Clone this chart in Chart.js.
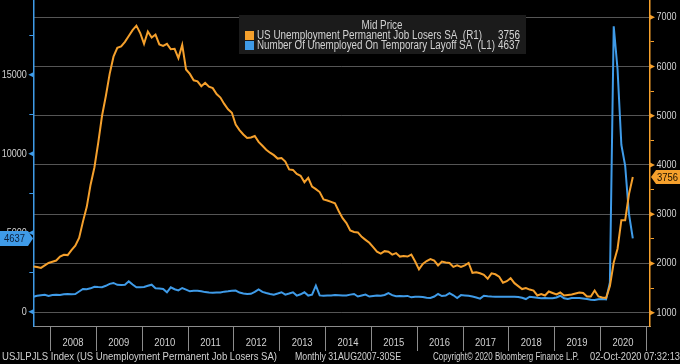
<!DOCTYPE html>
<html><head><meta charset="utf-8">
<script src="https://cdn.jsdelivr.net/npm/chart.js@4"></script>
<style>html,body{margin:0;padding:0;background:#000;overflow:hidden}canvas{display:block}</style>
</head><body>
<canvas id="c" width="680" height="364"></canvas>
<script>
const FONT = '"Liberation Sans", Arial, sans-serif';
const NARROW = 0.82; // horizontal squeeze, like a narrow face

// Monthly series, month-end Aug 2007 .. Sep 2020 (thousands)
const firstMonth = '2007-08';
const years = ['2008','2009','2010','2011','2012','2013','2014','2015','2016','2017','2018','2019','2020'];

const permanentLosers = [
  1940,1930,1910,1960,2010,
  2035,2060,2140,2175,2170,2270,2360,2520,2850,3150,3600,3950,
  4450,5000,5400,5850,6200,6380,6410,6500,6620,6740,6830,6680,
  6460,6710,6590,6650,6450,6420,6460,6350,6360,6170,6440,5940,
  5850,5720,5700,5600,5670,5590,5560,5440,5370,5240,5130,5060,
  4820,4710,4620,4550,4560,4590,4470,4390,4310,4250,4200,4130,
  4140,4070,3910,3900,3820,3780,3650,3740,3560,3510,3450,3300,
  3280,3250,3220,3060,2920,2820,2670,2640,2630,2540,2480,2420,
  2330,2240,2200,2250,2240,2180,2210,2140,2150,2140,2180,2040,
  1880,1990,2050,2090,2060,1960,2040,2020,2010,1930,1960,1930,
  1960,2010,1810,1820,1800,1770,1690,1800,1780,1730,1610,1640,
  1700,1600,1540,1480,1500,1470,1450,1350,1380,1350,1430,1400,
  1370,1410,1350,1360,1370,1390,1410,1400,1330,1330,1450,1330,
  1310,1300,1540,2020,2300,2880,2880,3410,3756
];

const temporaryLayoff = [
  950,1010,1040,1070,1000,
  1060,1070,1060,1100,1120,1110,1120,1280,1440,1420,1480,1580,
  1560,1550,1640,1760,1820,1700,1690,1700,1920,1720,1550,1540,
  1560,1640,1710,1490,1470,1440,1230,1540,1420,1350,1500,1400,
  1290,1320,1330,1290,1240,1210,1200,1210,1210,1270,1290,1320,
  1340,1210,1150,1120,1130,1250,1410,1250,1180,1120,1080,1150,
  1230,1080,1150,1230,1020,1100,1230,1020,1080,1650,1030,1010,
  1020,1030,1060,1040,1020,1020,1080,1120,960,1020,1080,960,
  990,1020,1010,1060,1180,1050,980,990,980,1000,910,940,
  950,930,890,870,960,1120,990,1020,1180,1040,870,1050,
  1030,1010,960,900,830,1010,980,960,950,950,940,950,
  950,940,930,880,800,950,920,880,850,860,850,850,
  900,1010,850,800,860,870,860,840,800,760,740,790,
  801,780,1848,18063,15343,10565,9232,6166,4637
];

const leftTickValues  = [0,2500,5000,7500,10000,12500,15000,17500];
const leftMajor       = [0,5000,10000,15000];
const rightTickValues = [1000,1500,2000,2500,3000,3500,4000,4500,5000,5500,6000,6500,7000];
const rightMajor      = [1000,2000,3000,4000,5000,6000,7000];

const legendTitle = 'Mid Price';
const seriesNames = ['US Unemployment Permanent Job Losers SA  (R1)', 'Number Of Unemployed On Temporary Layoff SA  (L1)'];
const footerParts = ['USJLPJLS Index (US Unemployment Permanent Job Losers SA)', 'Monthly 31AUG2007-30SE', 'Copyright\u00A9 2020 Bloomberg Finance L.P.', '02-Oct-2020 07:32:13'];

const ORANGE = '#f5a02c';
const BLUE = '#3f9be8';
const TXT = '#d2d2d2';

const toPoints = arr => arr.map((v, i) => ({x: i, y: v}));

// draw text squeezed horizontally; optional target width fits the string exactly
function txt(ctx, s, x, y, align, size, color, fitWidth) {
  ctx.save();
  ctx.font = size + 'px ' + FONT;
  ctx.fillStyle = color; ctx.textBaseline = 'middle'; ctx.textAlign = align;
  let sx = NARROW;
  if (fitWidth) sx = fitWidth / ctx.measureText(s).width;
  ctx.translate(x, y); ctx.scale(sx, 1); ctx.fillText(s, 0, 0);
  ctx.restore();
}

const overlay = {
  id: 'overlay',
  beforeDraw(chart) {
    const c = chart.ctx; c.save(); c.fillStyle = '#000'; c.fillRect(0, 0, chart.width, chart.height); c.restore();
  },
  afterDraw(chart) {
    const ctx = chart.ctx, xs = chart.scales.x, yl = chart.scales.yL, yr = chart.scales.yR, a = chart.chartArea;
    ctx.save();
    // year separators and labels
    ctx.strokeStyle = '#8c8c8c'; ctx.lineWidth = 1;
    for (let k = 0; k <= years.length; k++) {
      const px = Math.round(xs.getPixelForValue(k * 12 + 4.4)) + 0.5;
      ctx.beginPath(); ctx.moveTo(px, a.bottom); ctx.lineTo(px, a.bottom + 25); ctx.stroke();
    }
    xs.ticks.forEach((t, i) => txt(ctx, years[i], xs.getPixelForValue(t.value), a.bottom + 17, 'center', 11.5, TXT));
    // axis labels and major arrow heads
    leftMajor.forEach(v => {
      const py = yl.getPixelForValue(v);
      ctx.fillStyle = BLUE;
      ctx.beginPath(); ctx.moveTo(a.left, py - 2.5); ctx.lineTo(a.left, py + 2.5); ctx.lineTo(a.left - 5, py); ctx.closePath(); ctx.fill();
      txt(ctx, String(v), a.left - 6.5, py, 'right', 11, TXT);
    });
    rightMajor.forEach(v => {
      const py = yr.getPixelForValue(v);
      ctx.fillStyle = ORANGE;
      ctx.beginPath(); ctx.moveTo(a.right, py - 2.5); ctx.lineTo(a.right, py + 2.5); ctx.lineTo(a.right + 5, py); ctx.closePath(); ctx.fill();
      txt(ctx, String(v), a.right + 6.5, py, 'left', 11, TXT);
    });
    // legend box
    ctx.fillStyle = '#1b1b1b';
    ctx.fillRect(239, 15, 287, 39);
    txt(ctx, legendTitle, 382, 25.5, 'center', 12, TXT, 41);
    const lastP = permanentLosers[permanentLosers.length - 1];
    const lastT = temporaryLayoff[temporaryLayoff.length - 1];
    const rows = [[ORANGE, seriesNames[0], lastP, 35.5, 225], [BLUE, seriesNames[1], lastT, 45.5, 238]];
    rows.forEach(([col, name, val, y, w]) => {
      ctx.fillStyle = col; ctx.fillRect(245, y - 4.5, 9, 9);
      txt(ctx, name, 257, y, 'left', 12, TXT, w);
      txt(ctx, String(val), 520, y, 'right', 12, TXT, 22);
    });
    // last value boxes
    let cy = yl.getPixelForValue(lastT);
    ctx.fillStyle = BLUE;
    ctx.beginPath(); ctx.moveTo(0, cy - 7.5); ctx.lineTo(28, cy - 7.5); ctx.lineTo(33, cy); ctx.lineTo(28, cy + 7.5); ctx.lineTo(0, cy + 7.5); ctx.closePath(); ctx.fill();
    txt(ctx, String(lastT), 14.5, cy + 0.5, 'center', 11.5, '#0d1f3a');
    cy = yr.getPixelForValue(lastP);
    ctx.fillStyle = ORANGE;
    ctx.beginPath(); ctx.moveTo(651, cy); ctx.lineTo(656, cy - 7); ctx.lineTo(680, cy - 7); ctx.lineTo(680, cy + 7); ctx.lineTo(656, cy + 7); ctx.closePath(); ctx.fill();
    txt(ctx, String(lastP), 667.5, cy + 0.5, 'center', 11.5, '#1a1000');
    // footer
    txt(ctx, footerParts[0], 2, 357, 'left', 11.5, TXT, 275);
    txt(ctx, footerParts[1], 295, 357, 'left', 11.5, TXT, 106);
    txt(ctx, footerParts[2], 433, 357, 'left', 11.5, TXT, 146);
    txt(ctx, footerParts[3], 590, 357, 'left', 11.5, TXT, 90);
    ctx.restore();
  }
};

new Chart(document.getElementById('c'), {
  type: 'line',
  data: {
    datasets: [
      {label: seriesNames[0], data: toPoints(permanentLosers), yAxisID: 'yR', borderColor: ORANGE, borderWidth: 2, pointRadius: 0, tension: 0},
      {label: seriesNames[1], data: toPoints(temporaryLayoff), yAxisID: 'yL', borderColor: BLUE, borderWidth: 2, pointRadius: 0, tension: 0}
    ]
  },
  options: {
    responsive: false, animation: false, devicePixelRatio: 1,
    layout: {padding: 0},
    plugins: {legend: {display: false}, tooltip: {enabled: false}},
    scales: {
      x: {
        type: 'linear', position: 'bottom', min: 0, max: 161.5,
        afterBuildTicks: s => { s.ticks = years.map((y, k) => ({value: k * 12 + 10.4})); },
        ticks: {display: false, autoSkip: false},
        grid: {display: false, drawTicks: false},
        border: {display: true, color: '#8c8c8c', width: 1},
        afterFit: s => { s.height = 38; s.paddingLeft = 0; s.paddingRight = 0; }
      },
      yL: {
        type: 'linear', position: 'left', min: -905, max: 19728,
        afterBuildTicks: s => { s.ticks = leftTickValues.map(v => ({value: v})); },
        ticks: {display: false, autoSkip: false},
        grid: {drawOnChartArea: false, tickLength: 4,
               tickColor: c => (c.tick && leftMajor.includes(c.tick.value)) ? 'rgba(0,0,0,0)' : BLUE},
        border: {color: BLUE, width: 1.5},
        afterFit: s => { s.width = 33.3; s.paddingTop = 0; s.paddingBottom = 0; }
      },
      yR: {
        type: 'linear', position: 'right', min: 730, max: 7351,
        afterBuildTicks: s => { s.ticks = rightTickValues.map(v => ({value: v})); },
        ticks: {display: false, autoSkip: false},
        grid: {drawOnChartArea: true, tickLength: 4, lineWidth: 1,
               color: c => (c.tick && rightMajor.includes(c.tick.value)) ? '#555555' : 'rgba(0,0,0,0)',
               tickColor: c => (c.tick && rightMajor.includes(c.tick.value)) ? 'rgba(0,0,0,0)' : ORANGE},
        border: {color: ORANGE, width: 1.5},
        afterFit: s => { s.width = 30; s.paddingTop = 0; s.paddingBottom = 0; }
      }
    }
  },
  plugins: [overlay]
});
</script>
</body></html>
